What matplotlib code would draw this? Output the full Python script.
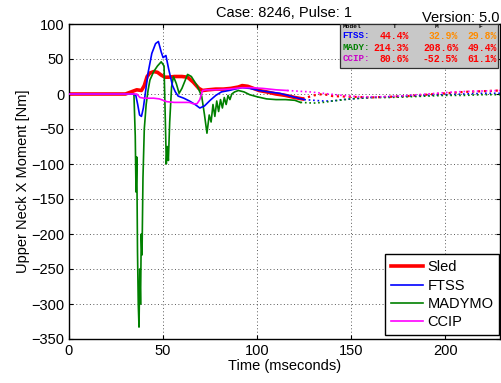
import matplotlib
matplotlib.use('Agg')
import matplotlib.pyplot as plt
from matplotlib.patches import Rectangle

plt.rcParams['font.family'] = ['Liberation Sans', 'DejaVu Sans']

# Sled (solid part, then dotted tail)
sled_t = [0, 30, 34, 36, 38.5, 40, 41.5, 43, 45, 47, 49, 51, 53, 56, 60, 63, 66, 69, 71,
          74, 78, 82, 86, 90, 92, 95, 98, 101, 105, 110, 115, 120, 124]
sled_v = [0, 0, 4, 6, 5, 12, 25, 30, 32, 31, 27, 24, 24, 25, 25, 24, 17, 8, 5,
          6, 7, 7, 8, 10, 12, 11, 8, 5, 3, 0, -2, -5, -7]
sled_tail_t = [124, 130, 135, 140, 150, 160, 170, 180, 190, 200, 210, 220, 229]
sled_tail_v = [-7, -2, 0, -3, -4, -5, -4, -3, -1, 1, 3, 4, 5]

# FTSS
ftss_t = [0, 34, 35.5, 36.5, 37.5, 38.5, 39.5, 40.5, 42, 44, 46, 47.5, 49, 50, 51.5, 53,
          55, 56.5, 58, 61, 64, 67, 69.5, 72, 75, 78, 81, 85, 88, 92, 96, 101, 106, 112,
          119, 125]
ftss_v = [0, 0, -2, -15, -30, -32, -20, 0, 30, 58, 72, 75, 60, 52, 55, 35,
          12, 3, -3, -6, -10, -15, -20, -17, -9, -2, 3, 5, 7, 9, 8, 5, 3, 1,
          -4, -8]
ftss_tail_t = [125, 130, 135, 140, 145, 150, 160, 170, 180, 190, 200, 210, 220, 229]
ftss_tail_v = [-8, -9, -10, -10, -8, -7, -5, -4, -3, -2, -1, 0, 1, 1]

# MADYMO
mady_t = [0, 34.5, 35.2, 35.6, 36.0, 36.4, 36.8, 37.2, 37.6, 38.0, 38.4, 38.8, 39.3, 40,
          41, 42, 43, 45, 47, 49, 50.5, 51.2, 51.7, 52.2, 52.8, 53.5, 54.5, 55.5, 57,
          58.5, 60, 63, 65, 68, 70.5, 72, 73.3, 74.5, 75.5, 76.5, 77.5, 78.5, 79.5, 80.5,
          81.5, 82.5, 83.5, 84.5, 85.5, 86.5, 88, 90, 93, 96, 100, 105, 110, 115, 120, 123]
mady_v = [0, 0, -60, -140, -90, -225, -300, -333, -250, -300, -200, -230, -120, -50,
          -15, 5, 20, 32, 40, 46, 40, -40, -100, -75, -95, -40, 10, 25, 15,
          1, 8, 28, 25, 12, -3, -30, -56, -30, -40, -15, -32, -10, -25, -8,
          -20, -5, -15, -2, -8, 0, 3, 5, 3, -1, -4, -7, -8, -8, -9, -12]
mady_tail_t = [123, 130, 135, 140, 150, 160, 170, 180, 190, 200, 210, 220, 229]
mady_tail_v = [-12, -13, -12, -10, -7, -5, -5, -4, -3, -2, -2, -1, -1]

# CCIP
ccip_t = [0, 36, 37.7, 40, 45, 48, 52, 56, 60, 64, 66, 68, 69.5, 71, 73, 78, 85, 92, 97,
          103, 110, 116]
ccip_v = [0, 0, -5, -6, -6, -7, -11, -12, -12, -12, -14, -14, -8, 5, 6, 6, 7, 9, 9,
          8, 6, 5]
ccip_tail_t = [116, 122, 128, 135, 145, 155, 165, 175, 185, 195, 205, 215, 229]
ccip_tail_v = [5, 4, 3, 1, -2, -4, -4, -3, -1, 1, 3, 4, 5]

# rating table
table_models = ['FTSS:', 'MADY:', 'CCIP:']
table_cols = ['T', 'M', 'F']
table_vals = [['44.4%', '32.9%', '29.8%'],
              ['214.3%', '208.6%', '49.4%'],
              ['80.6%', '-52.5%', '61.1%']]
table_val_colors = [['#ff0000', '#ff8c00', '#ff8c00'],
                    ['#ff0000', '#ff0000', '#ff0000'],
                    ['#ff0000', '#ff0000', '#ff0000']]
model_colors = ['#0000ff', '#008000', '#c800c8']

fig = plt.figure(figsize=(5.02, 3.83), dpi=100)
ax = fig.add_axes([69 / 502, 1 - 339 / 383, 431 / 502, 315 / 383])

ax.plot(mady_t, mady_v, color='#008000', lw=1.2, label='MADYMO', zorder=3)
ax.plot(ftss_t, ftss_v, color='#0000ff', lw=1.2, label='FTSS', zorder=4)
ax.plot(ccip_t, ccip_v, color='#ff00ff', lw=1.2, label='CCIP', zorder=4)
ax.plot(sled_t, sled_v, color='#ff0000', lw=2.6, label='Sled', zorder=2)

ax.plot(sled_tail_t, sled_tail_v, color='#ff0000', lw=1.6, ls=':', zorder=2)
ax.plot(ftss_tail_t, ftss_tail_v, color='#0000ff', lw=1.2, ls=':', zorder=3)
ax.plot(mady_tail_t, mady_tail_v, color='#008000', lw=1.2, ls=':', zorder=3)
ax.plot(ccip_tail_t, ccip_tail_v, color='#ff00ff', lw=1.2, ls=':', zorder=3)

ax.set_xlim(0, 229)
ax.set_ylim(-350, 100)
ax.set_xticks([0, 50, 100, 150, 200])
ax.set_yticks(range(-350, 101, 50))
ax.tick_params(direction='in', top=True, right=True, labelsize=10.5, length=3)
ax.grid(True, color='#303030', lw=0.7, alpha=0.8, dashes=(1, 2.5))
for s in ax.spines.values():
    s.set_linewidth(1.0)

ax.set_xlabel('Time (mseconds)', fontsize=10.5, labelpad=1)
ax.set_ylabel('Upper Neck X Moment [Nm]', fontsize=10.5, labelpad=1)
ax.set_title('Case: 8246, Pulse: 1', fontsize=10.5, pad=5)
fig.text(500 / 502, 1 - 18 / 383, 'Version: 5.0', ha='right', va='center', fontsize=10.5)

h, l = ax.get_legend_handles_labels()
order = [3, 1, 0, 2]
leg = ax.legend([h[i] for i in order], [l[i] for i in order], loc='lower right',
                bbox_to_anchor=(0.998, 0.012), borderaxespad=0, fancybox=False,
                edgecolor='k', framealpha=1, fontsize=10.5, handlelength=2.2,
                labelspacing=0.3, handletextpad=0.3, borderpad=0.4)
leg.get_frame().set_linewidth(1.0)
for line in leg.get_lines():
    line.set_linewidth(2.6 if line.get_label() == 'Sled' else 1.2)

# rating table box
ax.add_patch(Rectangle((0.629, 0.860), 0.366, 0.140, transform=ax.transAxes,
                       facecolor='#c8c8c8', edgecolor='#303030', lw=0.9, zorder=6))
tfont = dict(family=['Liberation Mono', 'DejaVu Sans Mono'], weight='bold')
ax.text(0.636, 0.993, 'Model', transform=ax.transAxes, fontsize=4.5, va='center',
        ha='left', zorder=7, **tfont)
col_x = [0.789, 0.903, 0.993]
head_x = [0.756, 0.852, 0.954]
for j, c in enumerate(table_cols):
    ax.text(head_x[j], 0.993, c, transform=ax.transAxes, fontsize=4.5, va='center',
            ha='center', zorder=7, **tfont)
row_y = [0.962, 0.925, 0.889]
for i, m in enumerate(table_models):
    ax.text(0.634, row_y[i], m, transform=ax.transAxes, fontsize=6.6, va='center',
            ha='left', color=model_colors[i], zorder=7, **tfont)
    for j in range(3):
        ax.text(col_x[j], row_y[i], table_vals[i][j], transform=ax.transAxes,
                fontsize=7.0, va='center', ha='right', color=table_val_colors[i][j],
                zorder=7, **tfont)

fig.savefig('out.png', dpi=100)
